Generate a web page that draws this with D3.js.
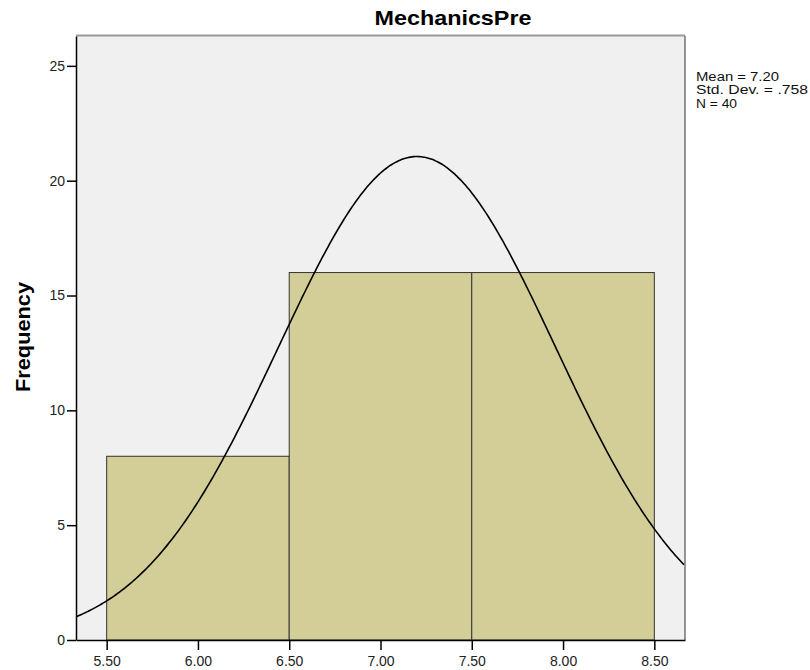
<!DOCTYPE html>
<html><head><meta charset="utf-8">
<script src="https://cdn.jsdelivr.net/npm/d3@7"></script>
<style>body{margin:0;background:#fff;} text{font-family:Arial,"Liberation Sans",sans-serif;}</style>
</head><body>
<svg id="c" width="810" height="670"></svg>
<script>
const binStarts = [5.5, 6.5, 7.5];
const binEnds = [6.5, 7.5, 8.5];
const frequencies = [8, 16, 16];
const xTicks = [5.5, 6.0, 6.5, 7.0, 7.5, 8.0, 8.5];
const yTicks = [0, 5, 10, 15, 20, 25];
const statsLabels = ["Mean = 7.20", "Std. Dev. = .758", "N = 40"];
const statsWidths = [83, 112, 41];
const mean = 7.20, sd = 0.758, n = 40, binWidth = 1;

const svg = d3.select("#c");
const L = 76, R = 685, T = 36, B = 640;
const x = d3.scaleLinear().domain([5.332, 8.668]).range([L, R]);
const y = d3.scaleLinear().domain([0, 26.3]).range([B, T]);

svg.append("rect").attr("x", L).attr("y", T).attr("width", R - L).attr("height", B - T)
  .attr("fill", "#f0f0f0").attr("stroke", "none");

const clip = svg.append("defs").append("clipPath").attr("id", "pc");
clip.append("rect").attr("x", L).attr("y", T).attr("width", R - L).attr("height", B - T);

svg.append("g").selectAll("rect").data(frequencies).join("rect")
  .attr("x", (d, i) => x(binStarts[i]))
  .attr("y", d => y(d))
  .attr("width", (d, i) => x(binEnds[i]) - x(binStarts[i]))
  .attr("height", d => y(0) - y(d))
  .attr("fill", "#d3ce98").attr("stroke", "#333").attr("stroke-width", 1);

const pts = d3.range(5.332, 8.6681, 0.01).map(v => [v, n * binWidth * Math.exp(-0.5 * ((v - mean) / sd) ** 2) / (sd * Math.sqrt(2 * Math.PI))]);
svg.append("path").datum(pts).attr("clip-path", "url(#pc)")
  .attr("d", d3.line().x(d => x(d[0])).y(d => y(d[1])).curve(d3.curveBasis))
  .attr("fill", "none").attr("stroke", "#000").attr("stroke-width", 1.6);

// plot frame
svg.append("line").attr("x1", L).attr("x2", R).attr("y1", T - 0.5).attr("y2", T - 0.5).attr("stroke", "#999").attr("stroke-width", 2);
svg.append("line").attr("x1", R).attr("x2", R).attr("y1", T).attr("y2", B).attr("stroke", "#333").attr("stroke-width", 1);

const xa = svg.append("g").attr("transform", `translate(0,${B})`)
  .call(d3.axisBottom(x).tickValues(xTicks).tickFormat(d3.format(".2f")).tickSize(10).tickSizeOuter(0));
xa.select(".domain").attr("stroke", "#000").attr("stroke-width", 1.5);
xa.selectAll(".tick line").attr("stroke", "#000").attr("stroke-width", 1.5);
xa.selectAll(".tick text").attr("font-size", 14).attr("fill", "#222").attr("y", 13).attr("dy", "0.95em").attr("font-family", "Arial, 'Liberation Sans', sans-serif");

const ya = svg.append("g").attr("transform", `translate(${L},0)`)
  .call(d3.axisLeft(y).tickValues(yTicks).tickSize(9).tickSizeOuter(0));
ya.select(".domain").attr("stroke", "#000").attr("stroke-width", 1.5);
ya.selectAll(".tick line").attr("stroke", "#000").attr("stroke-width", 1.5);
ya.selectAll(".tick text").attr("font-size", 14).attr("fill", "#222").attr("x", -11).attr("font-family", "Arial, 'Liberation Sans', sans-serif");

svg.append("text").attr("x", 453).attr("y", 25).attr("text-anchor", "middle")
  .attr("font-size", 21).attr("font-weight", "bold").attr("fill", "#000")
  .attr("textLength", 157).attr("lengthAdjust", "spacingAndGlyphs").text("MechanicsPre");

svg.append("text").attr("transform", "translate(30,337) rotate(-90)").attr("text-anchor", "middle")
  .attr("font-size", 20).attr("font-weight", "bold").attr("fill", "#000")
  .attr("textLength", 110).attr("lengthAdjust", "spacingAndGlyphs").text("Frequency");

svg.append("g").selectAll("text").data(statsLabels).join("text")
  .attr("x", 696).attr("y", (d, i) => 81 + i * 13.4)
  .attr("font-size", 12.5).attr("fill", "#111")
  .attr("textLength", (d, i) => statsWidths[i]).attr("lengthAdjust", "spacingAndGlyphs")
  .text(d => d);
</script>
</body></html>
